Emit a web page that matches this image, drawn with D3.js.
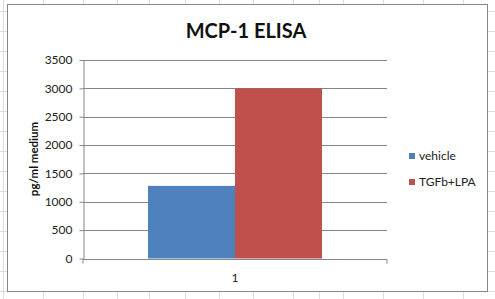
<!DOCTYPE html>
<html lang="en">
<head>
  <meta charset="UTF-8">
  <title>MCP-1 ELISA</title>
  <style>
    body { margin: 0; padding: 0; background: #fff; }
    svg { display: block; }
    text { font-family: Lato, "Open Sans", sans-serif; }
  </style>
</head>
<body>
  <svg id="chart" width="495" height="299"></svg>

  <script src="https://d3js.org/d3.v7.min.js"></script>
  <script>
  (function(){
    const categories = ["1"],
          series     = ["vehicle", "TGFb+LPA"],
          values     = [1280, 3000],
          colors     = ["#4F81BD", "#C0504D"],
          yTicks     = [0, 500, 1000, 1500, 2000, 2500, 3000, 3500];

    // spreadsheet cells behind the chart
    const colLines = [3, 43, 83, 117, 149, 185, 219, 253, 293, 319, 343, 383, 423, 463],
          rowStep  = 20, rowStart = 11.5;

    const svg = d3.select("#chart"),
          width  = +svg.attr("width"),
          height = +svg.attr("height");

    const grid = svg.append("g").attr("stroke", "#dadcdd").attr("stroke-width", 1);
    colLines.forEach(x => grid.append("line")
      .attr("x1", x + 0.5).attr("x2", x + 0.5).attr("y1", 0).attr("y2", height));
    for (let y = rowStart; y < height; y += rowStep)
      grid.append("line").attr("x1", 0).attr("x2", width).attr("y1", y).attr("y2", y);

    // chart area
    svg.append("rect")
      .attr("x", 7.5).attr("y", 4.5)
      .attr("width", 480).attr("height", 287)
      .attr("fill", "#fff").attr("stroke", "#868686");

    const plot = { left: 83, right: 387, top: 60, bottom: 258.5 };

    const y = d3.scaleLinear().domain([0, 3500]).range([plot.bottom, plot.top]);
    const x0 = d3.scaleBand().domain(categories).range([plot.left, plot.right])
      .paddingInner(0).paddingOuter(0.3736);
    const x1 = d3.scaleBand().domain(series).range([0, x0.bandwidth()]);

    // gridlines
    svg.append("g")
      .selectAll("line")
      .data(yTicks.slice(1))
      .join("line")
        .attr("x1", plot.left).attr("x2", plot.right)
        .attr("y1", d => Math.round(y(d)) + 0.5).attr("y2", d => Math.round(y(d)) + 0.5)
        .attr("stroke", "#868686");

    // bars
    svg.append("g")
      .selectAll("rect")
      .data(series.map((s, i) => ({ s, v: values[i], c: colors[i], cat: categories[0] })))
      .join("rect")
        .attr("x", d => x0(d.cat) + x1(d.s))
        .attr("width", x1.bandwidth())
        .attr("y", d => y(d.v))
        .attr("height", d => y(0) - y(d.v))
        .attr("fill", d => d.c);

    // y axis
    const yAxis = svg.append("g")
      .attr("transform", `translate(${plot.left + 0.5},0)`)
      .call(d3.axisLeft(y).tickValues(yTicks).tickFormat(d3.format("d"))
        .tickSize(4).tickPadding(7).tickSizeOuter(0));
    yAxis.select(".domain").attr("stroke", "#868686");
    yAxis.selectAll(".tick line").attr("stroke", "#868686");
    yAxis.selectAll(".tick text")
      .attr("font-family", "Lato, sans-serif").attr("font-size", 12).attr("fill", "#222");

    // x axis
    const xAxis = svg.append("g")
      .attr("transform", `translate(0,${Math.round(y(0)) + 0.5})`)
      .call(d3.axisBottom(x0).tickSize(0).tickPadding(14));
    xAxis.select(".domain").attr("stroke", "#868686")
      .attr("d", `M${plot.left},0H${plot.right}V4M${plot.left},0V4`);
    xAxis.selectAll(".tick text")
      .attr("font-family", "Lato, sans-serif").attr("font-size", 12).attr("fill", "#222");

    // title
    svg.append("text")
      .attr("x", 246).attr("y", 38)
      .attr("text-anchor", "middle")
      .attr("font-size", 20).attr("font-weight", "bold").attr("fill", "#111")
      .text("MCP-1 ELISA");

    // y label
    svg.append("text")
      .attr("transform", "translate(38,159) rotate(-90)")
      .attr("text-anchor", "middle")
      .attr("font-size", 11.5).attr("font-weight", "bold").attr("fill", "#111")
      .text("pg/ml medium");

    // legend
    const legend = svg.append("g")
      .selectAll("g")
      .data(series)
      .join("g")
        .attr("transform", (d, i) => `translate(409,${153 + i * 26})`);
    legend.append("rect")
      .attr("width", 6).attr("height", 6)
      .attr("fill", (d, i) => colors[i]);
    legend.append("text")
      .attr("x", 10).attr("y", 7)
      .attr("font-size", 12).attr("fill", "#222")
      .text(d => d);
  })();
  </script>
</body>
</html>
